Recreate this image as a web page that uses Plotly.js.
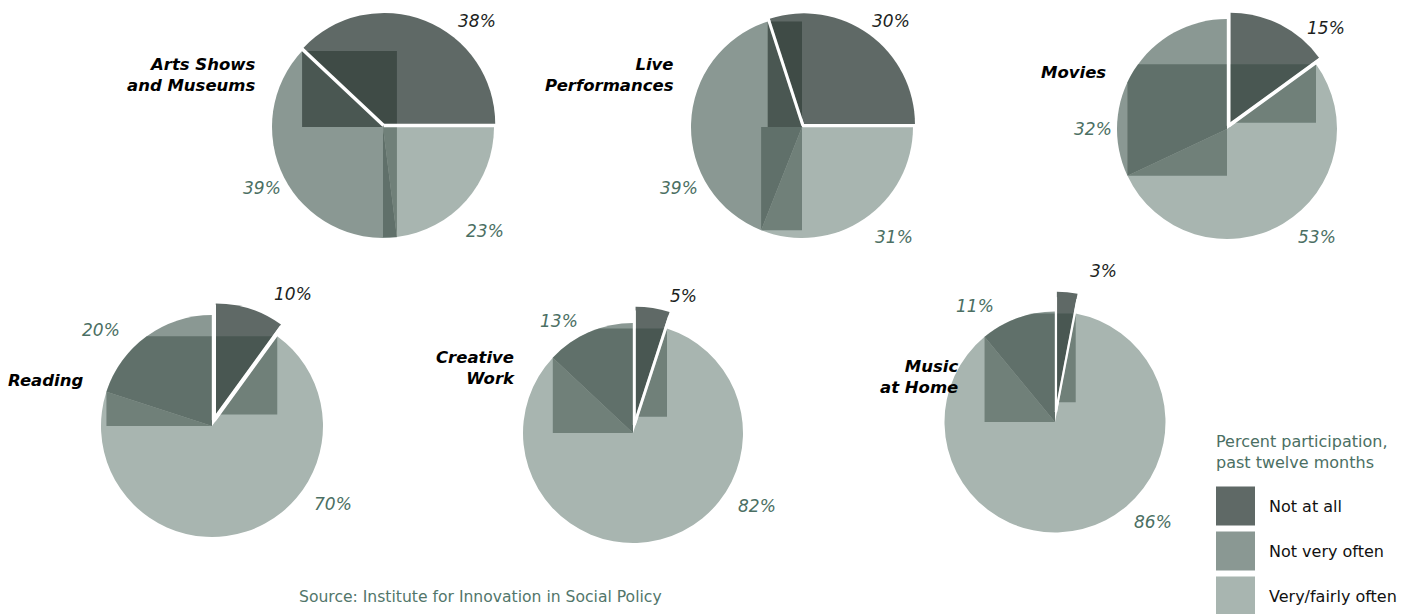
<!DOCTYPE html>
<html>
<head>
<meta charset="utf-8">
<script src="https://cdn.plot.ly/plotly-3.0.1.min.js"></script>
<style>html,body{margin:0;padding:0;background:#fff}#chart{width:1416px;height:614px}</style>
</head>
<body>
<div id="chart"></div>
<script>
// ---------- data ----------
const categories = ['Not at all', 'Not very often', 'Very/fairly often'];
const activities = ['Arts Shows<br>and Museums', 'Live<br>Performances', 'Movies', 'Reading', 'Creative<br>Work', 'Music<br>at Home'];
const notAtAll     = [38, 30, 15, 10, 5, 3];
const notVeryOften = [39, 39, 32, 20, 13, 11];
const veryOften    = [23, 31, 53, 70, 82, 86];
const legendTitle = 'Percent participation,<br>past twelve months';
const sourceNote = 'Source: Institute for Innovation in Social Policy';

// ---------- style / layout ----------
const W = 1416, H = 614;
const sliceColors = ['#5f6966', '#8a9893', '#a8b5b0'];
const pctColors = ['#1c1f1e', '#4b6f63', '#4b6f63'];
const overlayFill = {dark: 'rgba(52,66,60,0.75)', mid: 'rgba(48,68,60,0.47)'};
const pctFont = {family: 'DejaVu Sans', size: 17, style: 'italic'};
const titleFont = {family: 'DejaVu Sans', size: 16.5, style: 'italic', weight: 'bold', color: '#000'};

const pieGeom = [
  {cx:383, cy:127, r:111, pull:0.03, fromRight:true, title:[258,75], labs:[[477,21],[262,188],[485,231]],
   over:[{x:['B1','B2'], y:['B1','C'], f:'dark'}, {x:['C','B2'], y:['C','B2'], f:'mid'}]},
  {cx:802, cy:127, r:111, pull:0.03, fromRight:true, title:[676,75], labs:[[891,21],[679,188],[894,237]],
   over:[{x:['B1','C'], y:['B1','C'], f:'dark'}, {x:['B2','C'], y:['C','B2'], f:'mid'}]},
  {cx:1227, cy:129, r:110, pull:0.065, fromRight:false, title:[1108,72], labs:[[1326,28],[1093,129],[1317,237]],
   over:[{x:['B2','C'], y:['B0','B2'], f:'mid'}, {x:['C','B0'], y:['B0','P'], f:'mid'}]},
  {cx:212, cy:426, r:111, pull:0.11, fromRight:false, title:[85,380], labs:[[293,294],[101,330],[333,504]],
   over:[{x:['B2','C'], y:['B0','C'], f:'mid'}, {x:['C','B0'], y:['B0','P'], f:'mid'}]},
  {cx:633, cy:433, r:110, pull:0.15, fromRight:false, title:[517,368], labs:[[683,296],[559,321],[757,506]],
   over:[{x:['B2','C'], y:['B0','C'], f:'mid'}, {x:['C','B0'], y:['B0','P'], f:'mid'}]},
  {cx:1055, cy:422, r:110.5, pull:0.18, fromRight:false, title:[961,377], labs:[[1103,271],[975,306],[1153,522]],
   over:[{x:['B2','C'], y:['B0','C'], f:'mid'}, {x:['C','B0'], y:['B0','P'], f:'mid'}]}
];

const px = x => x / W;
const py = y => 1 - y / H;

function polar(cx, cy, r, deg) {
  const a = deg * Math.PI / 180;
  return [cx + r * Math.sin(a), cy - r * Math.cos(a)];
}
function clipAxis(poly, axis, val, keepGreater) {
  const out = [];
  for (let i = 0; i < poly.length; i++) {
    const a = poly[i], b = poly[(i + 1) % poly.length];
    const ina = keepGreater ? a[axis] >= val : a[axis] <= val;
    const inb = keepGreater ? b[axis] >= val : b[axis] <= val;
    if (ina) out.push(a);
    if (ina !== inb) {
      const t = (val - a[axis]) / (b[axis] - a[axis]);
      out.push([a[0] + t * (b[0] - a[0]), a[1] + t * (b[1] - a[1])]);
    }
  }
  return out;
}

const traces = [];
const shapes = [];
const annotations = [];

pieGeom.forEach((g, i) => {
  const vals = [notAtAll[i], notVeryOften[i], veryOften[i]];
  const rot = g.fromRight ? 90 - 3.6 * vals[0] : 0;
  const s = 2 * g.r * (1 + g.pull);
  traces.push({
    type: 'pie', labels: categories, values: vals, sort: false,
    direction: 'counterclockwise', rotation: rot,
    pull: [g.pull, 0, 0],
    marker: {colors: sliceColors, line: {width: 0}},
    textinfo: 'none', hoverinfo: 'label+percent', showlegend: false,
    domain: {x: [px(g.cx - s / 2), px(g.cx + s / 2)], y: [py(g.cy + s / 2), py(g.cy - s / 2)]}
  });

  // geometry of slice boundaries (pixel space)
  const C = [g.cx, g.cy];
  const B1 = polar(g.cx, g.cy, g.r, rot);
  const B0 = polar(g.cx, g.cy, g.r, rot + 3.6 * vals[0]);
  const B2 = polar(g.cx, g.cy, g.r, rot - 3.6 * vals[1]);
  const mid = rot + 1.8 * vals[0];
  const o = [g.pull * g.r * Math.sin(mid * Math.PI / 180), -g.pull * g.r * Math.cos(mid * Math.PI / 180)];
  const P = [C[0] + o[0], C[1] + o[1]];
  const pts = {C, B0, B1, B2, P};

  // shaded overlay rectangles clipped to the pie disc
  const circle = [];
  for (let k = 0; k < 240; k++) {
    const a = 2 * Math.PI * k / 240;
    circle.push([g.cx + g.r * Math.cos(a), g.cy + g.r * Math.sin(a)]);
  }
  g.over.forEach(ov => {
    const xs = ov.x.map(k => pts[k][0]), ys = ov.y.map(k => pts[k][1]);
    let poly = circle;
    poly = clipAxis(poly, 0, Math.min(...xs), true);
    poly = clipAxis(poly, 0, Math.max(...xs), false);
    poly = clipAxis(poly, 1, Math.min(...ys), true);
    poly = clipAxis(poly, 1, Math.max(...ys), false);
    if (poly.length < 3) return;
    const path = 'M' + poly.map(p => px(p[0]).toFixed(5) + ',' + py(p[1]).toFixed(5)).join('L') + 'Z';
    shapes.push({type: 'path', xref: 'paper', yref: 'paper', path, fillcolor: overlayFill[ov.f], line: {width: 0}, layer: 'above'});
  });

  // keep the gap of the pulled slice white
  const gapW = Math.hypot(o[0], o[1]) * Math.sin(1.8 * vals[0] * Math.PI / 180);
  [B0, B1].forEach(B => {
    shapes.push({type: 'line', xref: 'paper', yref: 'paper',
      x0: px(C[0] + o[0] / 2), y0: py(C[1] + o[1] / 2),
      x1: px(B[0] + o[0] / 2 + (B[0] - C[0]) * 0.04), y1: py(B[1] + o[1] / 2 + (B[1] - C[1]) * 0.04),
      line: {color: '#ffffff', width: gapW + 0.4}, layer: 'above'});
  });

  // percent labels
  vals.forEach((v, k) => {
    annotations.push({xref: 'paper', yref: 'paper', x: px(g.labs[k][0]), y: py(g.labs[k][1]),
      xanchor: 'center', yanchor: 'middle', showarrow: false, text: v + '%',
      font: Object.assign({}, pctFont, {color: pctColors[k]})});
  });
  // pie titles
  annotations.push({xref: 'paper', yref: 'paper', x: px(g.title[0]), y: py(g.title[1]),
    xanchor: 'right', yanchor: 'middle', align: 'right', showarrow: false,
    text: activities[i], font: titleFont});
});

// legend
annotations.push({xref: 'paper', yref: 'paper', x: px(1214), y: py(452), xanchor: 'left', yanchor: 'middle',
  align: 'left', showarrow: false, text: legendTitle,
  font: {family: 'DejaVu Sans', size: 16, color: '#4b6f63'}});
const legendY = [506, 551, 596];
categories.forEach((c, k) => {
  shapes.push({type: 'rect', xref: 'paper', yref: 'paper', x0: px(1216), x1: px(1255),
    y0: py(legendY[k] - 19.5), y1: py(legendY[k] + 19.5), fillcolor: sliceColors[k], line: {width: 0}});
  annotations.push({xref: 'paper', yref: 'paper', x: px(1267), y: py(legendY[k]), xanchor: 'left',
    yanchor: 'middle', showarrow: false, text: c, font: {family: 'DejaVu Sans', size: 16, color: '#111'}});
});
// source
annotations.push({xref: 'paper', yref: 'paper', x: px(480), y: py(597), xanchor: 'center', yanchor: 'middle',
  showarrow: false, text: sourceNote, font: {family: 'DejaVu Sans', size: 15.6, color: '#52766a'}});

Plotly.newPlot('chart', traces, {
  width: W, height: H, margin: {l: 0, r: 0, t: 0, b: 0, pad: 0},
  paper_bgcolor: '#fff', plot_bgcolor: '#fff', showlegend: false,
  shapes, annotations
}, {displayModeBar: false, staticPlot: true});
</script>
</body>
</html>
